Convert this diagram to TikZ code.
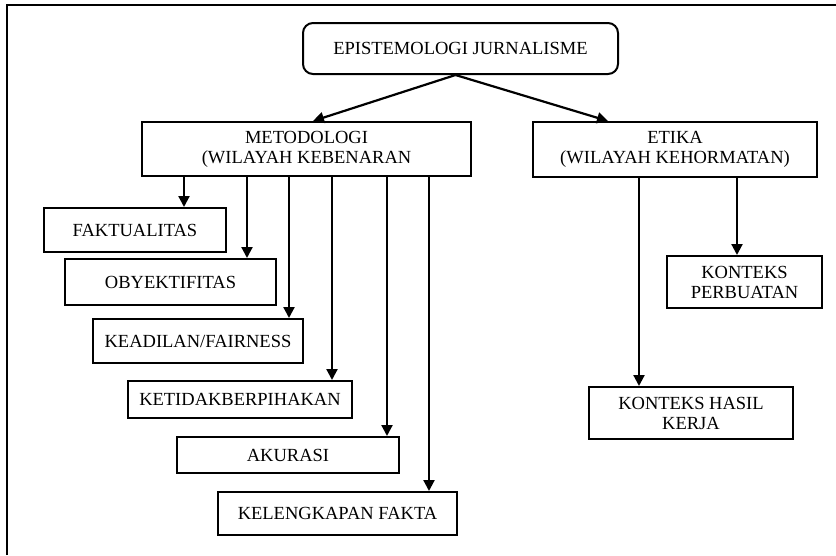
\documentclass[tikz,border=0pt]{standalone}
\usepackage{fontspec}
\setmainfont{Liberation Serif}
\usetikzlibrary{arrows.meta}
\begin{document}
\begin{tikzpicture}[x=1pt,y=-1pt,
  box/.style={draw, line width=2pt, rectangle, inner sep=0pt, align=center,
    font=\fontsize{18.5}{20}\selectfont},
  roundbox/.style={box, rounded corners=10pt},
  arr/.style={line width=2.2pt, -{Triangle[length=11pt,width=11pt]}},
  frameline/.style={line width=2pt}]
\useasboundingbox (0,0) rectangle (836,555);
% outer frame: only the top and left edges
\draw[frameline] (7,555) -- (7,5) -- (836,5);

% top level
\node[roundbox, minimum width=315pt, minimum height=51pt] (epis) at (460.5,48.5) {EPISTEMOLOGI JURNALISME};

% second level
\node[box, minimum width=329pt, minimum height=54pt] (metod) at (306.5,149) {METODOLOGI\\(WILAYAH KEBENARAN};
\node[box, minimum width=284pt, minimum height=55pt] (etika) at (675,149.5) {ETIKA\\(WILAYAH KEHORMATAN)};

% methodology items
\node[box, minimum width=182pt, minimum height=44pt] (fakt) at (135,230) {FAKTUALITAS};
\node[box, minimum width=211pt, minimum height=46pt] (obyek) at (170.5,282) {OBYEKTIFITAS};
\node[box, minimum width=210pt, minimum height=44pt] (adil) at (198,341) {KEADILAN/FAIRNESS};
\node[box, minimum width=224pt, minimum height=37pt] (netral) at (240,399.5) {KETIDAKBERPIHAKAN};
\node[box, minimum width=222pt, minimum height=36pt] (akur) at (288,455) {AKURASI};
\node[box, minimum width=239pt, minimum height=43pt] (lengkap) at (337.5,513.5) {KELENGKAPAN FAKTA};

% ethics items
\node[box, minimum width=155pt, minimum height=52pt] (perb) at (744.5,282) {KONTEKS\\PERBUATAN};
\node[box, minimum width=204pt, minimum height=52pt] (hasil) at (691,413) {KONTEKS HASIL\\KERJA};

% connectors from the top box
\draw[arr] ([xshift=-5pt]epis.south) -- ([xshift=6.5pt]metod.north);
\draw[arr] ([xshift=-5pt]epis.south) -- ([xshift=-67pt]etika.north);

% drop points along the bottom of the methodology box
\coordinate (m1) at (184,176);
\coordinate (m2) at (247,176);
\coordinate (m3) at (289,176);
\coordinate (m4) at (332,176);
\coordinate (m5) at (387,176);
\coordinate (m6) at (429,176);
\draw[arr] (m1) -- (m1 |- fakt.north);
\draw[arr] (m2) -- (m2 |- obyek.north);
\draw[arr] (m3) -- (m3 |- adil.north);
\draw[arr] (m4) -- (m4 |- netral.north);
\draw[arr] (m5) -- (m5 |- akur.north);
\draw[arr] (m6) -- (m6 |- lengkap.north);

% drop points along the bottom of the ethics box
\coordinate (e1) at (639,177);
\coordinate (e2) at (737,177);
\draw[arr] (e1) -- (e1 |- hasil.north);
\draw[arr] (e2) -- (e2 |- perb.north);
\end{tikzpicture}
\end{document}
